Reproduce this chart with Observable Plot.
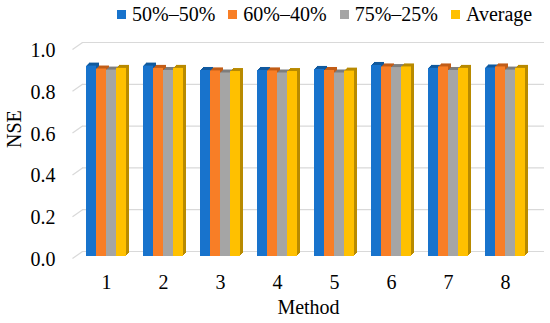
<!DOCTYPE html>
<html><head><meta charset="utf-8">
<script src="https://cdn.jsdelivr.net/npm/d3@7"></script>
<script src="https://cdn.jsdelivr.net/npm/@observablehq/plot@0.6"></script>
<style>
body{margin:0;background:#fff;}
#wrap{position:relative;width:550px;height:323px;font-family:'Liberation Serif','Times New Roman',serif;overflow:hidden;}
#wrap svg{position:absolute;left:0;top:0;font-family:'Liberation Serif','Times New Roman',serif;}
#legend{position:absolute;left:117px;top:2px;display:flex;align-items:center;font-size:20px;color:#000;height:24px;z-index:5;white-space:nowrap;}
.item{display:flex;align-items:center;margin-right:13px;}
.sw{width:9px;height:9px;margin-right:6px;}
</style></head><body><div id="wrap"><div id="legend"></div></div>
<script>
const methods = ["1","2","3","4","5","6","7","8"];
const seriesNames = ["50%–50%","60%–40%","75%–25%","Average"];
const s5050 = [0.911,0.911,0.890,0.890,0.895,0.914,0.900,0.902];
const s6040 = [0.897,0.900,0.888,0.888,0.890,0.907,0.907,0.907];
const s7525 = [0.892,0.890,0.878,0.878,0.878,0.904,0.890,0.892];
const sAvg  = [0.900,0.900,0.885,0.885,0.887,0.907,0.900,0.900];
const yTicks = [0,0.2,0.4,0.6,0.8,1.0];

const colors = ["#1873CC","#F87E26","#A5A5A5","#FFC000"];
const darks  = ["#115A9F","#C25D17","#7E7E7E","#B88A00"];
const font = "'Liberation Serif','Times New Roman',serif";

const seriesValues = [s5050, s6040, s7525, sAvg];
const rows = [];
methods.forEach((m, i) => seriesNames.forEach((s, j) => rows.push({method: m, series: s, value: seriesValues[j][i], j})));

const wrap = document.getElementById("wrap");

// legend
const legend = document.getElementById("legend");
seriesNames.forEach((s, j) => {
  const it = document.createElement("div"); it.className = "item";
  const sw = document.createElement("div"); sw.className = "sw"; sw.style.background = colors[j];
  const tx = document.createElement("span"); tx.textContent = s;
  it.appendChild(sw); it.appendChild(tx); legend.appendChild(it);
});

// background: walls, gridlines, y labels, axis titles
const A = Plot.plot({
  width: 550, height: 323, marginLeft: 72, marginRight: 6, marginTop: 47, marginBottom: 67,
  style: {fontFamily: font, fontSize: "20px", color: "#000", background: "#fff"},
  x: {domain: [0, 472], axis: null},
  y: {domain: [0, 1], axis: null},
  marks: [
    Plot.ruleY(yTicks, {y: d => d, x1: 10, x2: 472, dy: -5, stroke: "#d9d9d9", strokeWidth: 1.2}),
    Plot.link(yTicks, {x1: 0, x2: 10, y1: d => d - 2/209, y2: d => d + 5/209, stroke: "#d9d9d9", strokeWidth: 1.2}),
    Plot.text(yTicks, {x: 0, y: d => d, text: d => d.toFixed(1), textAnchor: "end", dx: -17, dy: 3, fontSize: 20, fill: "#000", fontFamily: font}),
    Plot.text(["NSE"], {frameAnchor: "left", text: d => d, rotate: -90, dx: -58, dy: -4, fontSize: 20, fill: "#000", fontFamily: font}),
    Plot.text(["Method"], {frameAnchor: "bottom", text: d => d, lineAnchor: "middle", dy: 51, fontSize: 20, fill: "#000", fontFamily: font})
  ]
});
wrap.appendChild(A);

// bars
const B = Plot.plot({
  width: 550, height: 323, marginLeft: 76, marginRight: 14, marginTop: 47, marginBottom: 67,
  style: {fontFamily: font, fontSize: "20px", color: "#000", background: "transparent"},
  fx: {domain: methods, paddingInner: 0.29, paddingOuter: 0.1265, label: null, axis: "bottom", tickSize: 0, tickPadding: 18},
  x: {domain: seriesNames, padding: 0, axis: null},
  y: {domain: [0, 1], axis: null},
  marks: [
    ...[3, 2, 1].map(k => Plot.barY(rows, {fx: "method", x: "series", y: "value", fill: d => darks[d.j], dx: k, dy: -k})),
    Plot.barY(rows, {fx: "method", x: "series", y: "value", fill: d => colors[d.j]})
  ]
});
wrap.appendChild(B);
</script></body></html>
